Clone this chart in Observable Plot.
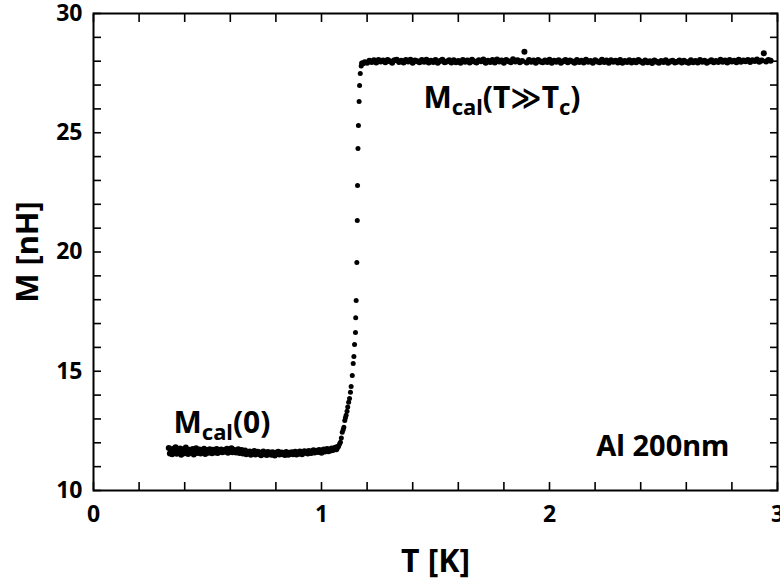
<!DOCTYPE html>
<html>
<head>
<meta charset="utf-8">
<script src="https://cdn.jsdelivr.net/npm/d3@7"></script>
<script src="https://cdn.jsdelivr.net/npm/@observablehq/plot@0.6"></script>
<style>
  html, body { margin: 0; padding: 0; background: #fff; }
  #chart { width: 780px; height: 584px; overflow: hidden; }
</style>
</head>
<body>
<div id="chart"></div>
<script>
// ---- Data ----
// Superconducting plateau (T < Tc)
const lowT = [
  0.330,0.335,0.340,0.345,0.350,0.355,0.360,0.365,0.370,0.375,
  0.380,0.385,0.390,0.395,0.400,0.405,0.410,0.415,0.420,0.425,
  0.430,0.435,0.440,0.445,0.450,0.455,0.460,0.465,0.470,0.475,
  0.480,0.485,0.490,0.495,0.500,0.505,0.510,0.515,0.520,0.525,
  0.530,0.535,0.540,0.545,0.550,0.555,0.560,0.565,0.570,0.575,
  0.580,0.585,0.590,0.595,0.600,0.605,0.610,0.615,0.620,0.625,
  0.630,0.635,0.640,0.645,0.650,0.655,0.660,0.665,0.670,0.675,
  0.680,0.685,0.690,0.695,0.700,0.705,0.710,0.715,0.720,0.725,
  0.730,0.735,0.740,0.745,0.750,0.755,0.760,0.765,0.770,0.775,
  0.780,0.785,0.790,0.795,0.800,0.805,0.810,0.815,0.820,0.825,
  0.830,0.835,0.840,0.845,0.850,0.855,0.860,0.865,0.870,0.875,
  0.880,0.885,0.890,0.895,0.900,0.905,0.910,0.915,0.920,0.925,
  0.930,0.935,0.940,0.945,0.950,0.955,0.960,0.965,0.970,0.975,
  0.980,0.985,0.990,0.995,1.000,1.005,1.010,1.015,1.020,1.025,
  1.030,1.035,1.040,1.045,1.050,1.055,1.060,1.065,1.070
];
const lowM = [
  11.78,11.55,11.69,11.52,11.75,11.63,11.81,11.54,11.70,11.60,
  11.76,11.50,11.67,11.73,11.56,11.80,11.62,11.53,11.71,11.66,
  11.58,11.74,11.51,11.68,11.77,11.57,11.64,11.72,11.55,11.69,
  11.61,11.75,11.53,11.66,11.70,11.58,11.73,11.62,11.56,11.71,
  11.64,11.59,11.74,11.57,11.68,11.63,11.72,11.60,11.66,11.70,
  11.62,11.75,11.58,11.69,11.64,11.77,11.60,11.71,11.66,11.59,
  11.68,11.73,11.57,11.65,11.70,11.55,11.63,11.68,11.52,11.61,
  11.57,11.64,11.50,11.60,11.55,11.66,11.51,11.58,11.62,11.53,
  11.59,11.48,11.56,11.63,11.52,11.57,11.49,11.61,11.54,11.58,
  11.50,11.60,11.55,11.47,11.58,11.53,11.62,11.51,11.56,11.59,
  11.52,11.57,11.49,11.61,11.55,11.50,11.58,11.54,11.60,11.52,
  11.56,11.62,11.51,11.58,11.54,11.63,11.57,11.52,11.60,11.65,
  11.58,11.62,11.55,11.66,11.60,11.57,11.64,11.69,11.59,11.63,
  11.67,11.61,11.70,11.64,11.58,11.68,11.72,11.63,11.66,11.74,
  11.65,11.71,11.68,11.76,11.70,11.74,11.79,11.73,11.82
];
// Transition region
const riseT = [1.075,1.079,1.083,1.087,1.091,1.095,1.098,1.102,1.105,1.108,1.112,1.115,1.119,1.123,1.127,1.130,1.135,1.139,1.142,1.145,1.149,1.150,1.152,1.155,1.157,1.158,1.160,1.162,1.165,1.167,1.170,1.174,1.176];
const riseM = [11.86,11.95,12.02,12.20,12.44,12.55,12.65,12.94,13.05,13.15,13.32,13.50,13.70,13.86,14.12,14.36,14.82,15.32,15.62,16.12,16.62,17.24,17.97,19.56,21.32,22.79,24.34,25.30,26.31,26.98,27.48,27.80,27.92];
// Normal-state plateau (T >> Tc)
const highT = [
  1.18,1.19,1.20,1.21,1.22,1.23,1.24,1.25,1.26,1.27,
  1.28,1.29,1.30,1.31,1.32,1.33,1.34,1.35,1.36,1.37,
  1.38,1.39,1.40,1.41,1.42,1.43,1.44,1.45,1.46,1.47,
  1.48,1.49,1.50,1.51,1.52,1.53,1.54,1.55,1.56,1.57,
  1.58,1.59,1.60,1.61,1.62,1.63,1.64,1.65,1.66,1.67,
  1.68,1.69,1.70,1.71,1.72,1.73,1.74,1.75,1.76,1.77,
  1.78,1.79,1.80,1.81,1.82,1.83,1.84,1.85,1.86,1.87,
  1.88,1.89,1.90,1.91,1.92,1.93,1.94,1.95,1.96,1.97,
  1.98,1.99,2.00,2.01,2.02,2.03,2.04,2.05,2.06,2.07,
  2.08,2.09,2.10,2.11,2.12,2.13,2.14,2.15,2.16,2.17,
  2.18,2.19,2.20,2.21,2.22,2.23,2.24,2.25,2.26,2.27,
  2.28,2.29,2.30,2.31,2.32,2.33,2.34,2.35,2.36,2.37,
  2.38,2.39,2.40,2.41,2.42,2.43,2.44,2.45,2.46,2.47,
  2.48,2.49,2.50,2.51,2.52,2.53,2.54,2.55,2.56,2.57,
  2.58,2.59,2.60,2.61,2.62,2.63,2.64,2.65,2.66,2.67,
  2.68,2.69,2.70,2.71,2.72,2.73,2.74,2.75,2.76,2.77,
  2.78,2.79,2.80,2.81,2.82,2.83,2.84,2.85,2.86,2.87,
  2.88,2.89,2.90,2.91,2.92,2.93,2.94,2.95,2.96,2.97
];
const highM = [
  27.90,27.96,27.93,28.02,27.97,28.04,27.95,28.05,27.99,28.03,
  27.96,28.05,28.00,27.94,28.04,28.06,27.97,28.02,27.95,28.05,
  27.99,28.06,27.93,28.03,28.00,27.96,28.05,27.98,28.06,27.95,
  28.02,27.97,28.05,27.94,28.01,28.06,27.96,27.99,28.04,27.95,
  28.04,27.96,28.01,27.93,28.05,27.98,28.03,27.95,28.06,27.99,
  27.95,28.04,28.00,28.07,27.94,28.02,27.97,28.05,27.95,28.07,
  27.99,28.03,27.93,28.05,28.00,27.96,28.08,27.99,28.04,27.96,
  28.01,28.40,27.95,28.05,27.98,28.03,27.94,28.05,27.99,27.96,
  28.03,27.97,28.06,27.94,28.02,27.98,28.04,27.93,28.00,28.05,
  27.96,28.03,27.99,27.94,28.05,27.97,28.02,27.95,28.06,27.98,
  28.01,27.93,28.04,27.99,27.96,28.06,27.97,28.03,27.94,28.04,
  27.98,28.02,27.95,28.05,27.93,28.01,27.97,28.04,27.95,28.02,
  27.96,28.05,27.99,27.94,28.03,27.96,28.00,27.92,28.03,27.98,
  27.94,28.01,27.97,28.04,27.93,27.99,28.02,27.95,27.98,28.03,
  27.95,28.02,27.97,27.93,28.04,27.96,28.01,27.95,28.05,27.98,
  28.02,27.94,27.99,28.04,27.96,28.01,27.97,28.06,27.98,28.03,
  27.95,28.05,27.99,28.02,27.96,28.06,27.98,28.03,28.00,28.05,
  27.97,28.04,28.01,28.07,27.98,28.03,28.33,27.99,28.05,28.02
];
// Axis ticks
const xMajor = [0, 1, 2, 3];
const xMinor = [0,0.2,0.4,0.6,0.8,1,1.2,1.4,1.6,1.8,2,2.2,2.4,2.6,2.8,3];
const yMajor = [10, 15, 20, 25, 30];
const yMinor = [10,11,12,13,14,15,16,17,18,19,20,21,22,23,24,25,26,27,28,29,30];
// Annotations
const notes = [
  {key: "Mcal(0)", T: 0.351, M: 12.43, parts: [["M", 0], ["cal", 1], ["(0)", 0]], anchor: "start", size: 30},
  {key: "Mcal(T>>Tc)", T: 1.447, M: 26.02, parts: [["M", 0], ["cal", 1], ["(T\u226BT", 0], ["c", 1], [")", 0]], anchor: "start", size: 30},
  {key: "Al 200nm", T: 2.789, M: 11.43, parts: null, anchor: "end", size: 29}
];

const plateaus = [
  ...lowT.map((T, i) => ({T, M: lowM[i]})),
  ...highT.map((T, i) => ({T, M: highM[i]}))
];
const rise = riseT.map((T, i) => ({T, M: riseM[i]}));

const font = "'Noto Sans', 'DejaVu Sans', sans-serif";

const chart = Plot.plot({
  width: 780,
  height: 584,
  marginLeft: 93,
  marginRight: 3,
  marginTop: 13,
  marginBottom: 94,
  style: {fontFamily: font, fontWeight: 700, color: "black", background: "white", overflow: "visible"},
  x: {domain: [0, 3]},
  y: {domain: [10, 30]},
  marks: [
    Plot.dot(plateaus, {x: "T", y: "M", r: 3, fill: "black", stroke: null}),
    Plot.dot(rise, {x: "T", y: "M", r: 2.5, fill: "black", stroke: null}),
    Plot.axisX(xMinor, {anchor: "bottom", tickSize: -8, text: null, label: null, strokeWidth: 1.6}),
    Plot.axisX(xMinor, {anchor: "top", tickSize: -8, text: null, label: null, strokeWidth: 1.6}),
    Plot.axisY(yMinor, {anchor: "left", tickSize: -8, text: null, label: null, strokeWidth: 1.6}),
    Plot.axisY(yMinor, {anchor: "right", tickSize: -8, text: null, label: null, strokeWidth: 1.6}),
    Plot.axisX(xMajor, {anchor: "bottom", tickSize: 0, tickPadding: 15, fontSize: 23, fontWeight: 700, label: null, tickFormat: "d"}),
    Plot.axisY(yMajor, {anchor: "left", tickSize: 0, tickPadding: 11, fontSize: 23, fontWeight: 700, label: null, tickFormat: "d"}),
    Plot.frame({stroke: "black", strokeWidth: 2}),
    Plot.text(["T [K]"], {frameAnchor: "bottom", dy: 71, fontSize: 32, fontWeight: 700, lineAnchor: "middle", textAnchor: "middle"}),
    Plot.text(["M [nH]"], {frameAnchor: "left", dx: -65, rotate: -90, fontSize: 31, fontWeight: 700, lineAnchor: "middle", textAnchor: "middle"}),
    ...notes.map(n => Plot.text([n], {
      x: "T", y: "M", text: "key", textAnchor: n.anchor, lineAnchor: "bottom",
      fontSize: n.size, fontWeight: 700
    }))
  ]
});

document.getElementById("chart").appendChild(chart);

// Subscripts for the annotations (rich text built from the parts above)
const NS = "http://www.w3.org/2000/svg";
for (const n of notes) {
  if (!n.parts) continue;
  const t = Array.from(chart.querySelectorAll("text")).find(el => el.textContent === n.key);
  if (!t) continue;
  while (t.firstChild) t.removeChild(t.firstChild);
  let level = 0;
  for (const [str, sub] of n.parts) {
    const s = document.createElementNS(NS, "tspan");
    const target = sub ? 7 : 0;
    const shift = target - level;
    if (shift) s.setAttribute("dy", shift);
    if (sub) s.setAttribute("font-size", 22);
    s.textContent = str;
    t.appendChild(s);
    level = target;
  }
}
</script>
</body>
</html>
